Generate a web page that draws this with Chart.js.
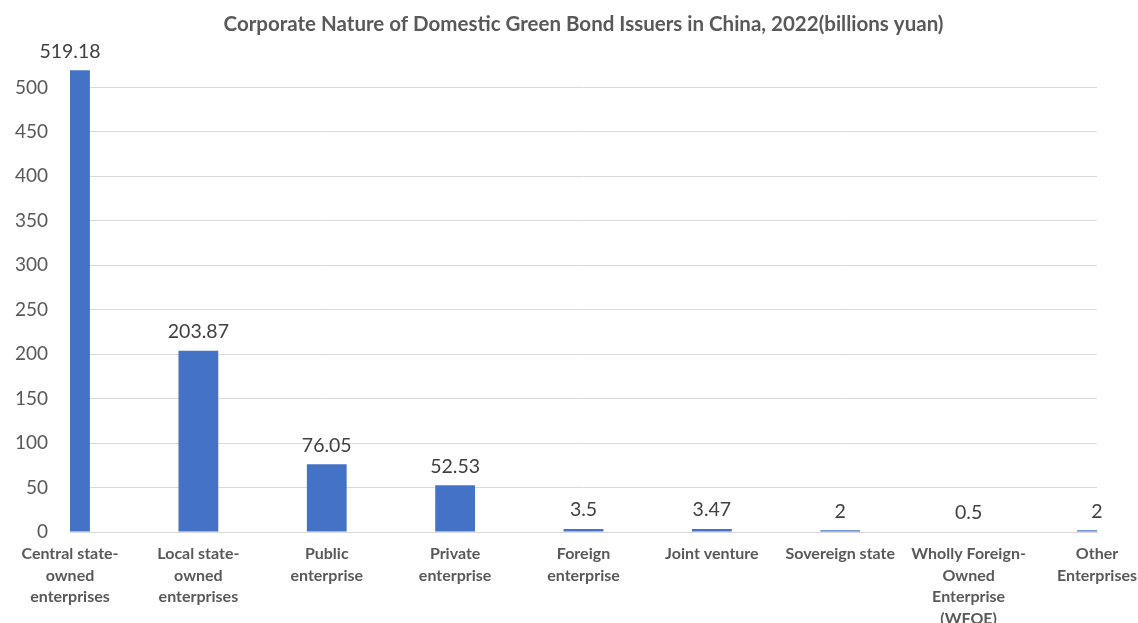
<!DOCTYPE html>
<html>
<head>
<meta charset="utf-8">
<script src="https://cdn.jsdelivr.net/npm/chart.js@4/dist/chart.umd.min.js"></script>
<style>
    html, body { margin: 0; padding: 0; background: #ffffff; }
    #wrap { width: 1138px; height: 623px; }
</style>
</head>
<body>
<div id="wrap"><canvas id="bond-chart" width="1138" height="623"></canvas></div>
<script>
// Chart data
const categories = [
    ['Central state-', 'owned', 'enterprises'],
    ['Local state-', 'owned', 'enterprises'],
    ['Public', 'enterprise'],
    ['Private', 'enterprise'],
    ['Foreign', 'enterprise'],
    'Joint venture',
    'Sovereign state',
    ['Wholly Foreign-', 'Owned', 'Enterprise', '(WFOE)'],
    ['Other', 'Enterprises']
];
const issuance = [519.18, 203.87, 76.05, 52.53, 3.5, 3.47, 2, 0.5, 2];
const yTicks = [0, 50, 100, 150, 200, 250, 300, 350, 400, 450, 500];

// Draw the value above each bar
const valueLabels = {
    id: 'valueLabels',
    afterDatasetsDraw(chart) {
        const ctx = chart.ctx;
        const meta = chart.getDatasetMeta(0);
        ctx.save();
        ctx.font = '19.5px Lato, "Open Sans", sans-serif';
        ctx.fillStyle = '#404040';
        ctx.textAlign = 'center';
        ctx.textBaseline = 'bottom';
        meta.data.forEach((bar, i) => {
            ctx.fillText(String(issuance[i]), bar.x, bar.y - 9);
        });
        ctx.restore();
    }
};

const ctx = document.getElementById('bond-chart').getContext('2d');
const bondChart = new Chart(ctx, {
    type: 'bar',
    data: {
        labels: categories,
        datasets: [{
            data: issuance,
            backgroundColor: '#4472C4',
            borderWidth: 0,
            categoryPercentage: 1,
            barPercentage: 0.31
        }]
    },
    options: {
        responsive: false,
        animation: false,
        layout: { padding: 0 },
        plugins: {
            legend: { display: false },
            tooltip: { enabled: false },
            title: {
                display: true,
                fullSize: false, // centre over the plot area, not the canvas
                text: 'Corporate Nature of Domestic Green Bond Issuers in China, 2022(billions yuan)',
                color: '#595959',
                font: { family: 'Lato, "Open Sans", sans-serif', size: 20.5, weight: 'bold', lineHeight: 1.2 },
                padding: { top: 12, bottom: 33 }
            }
        },
        scales: {
            x: {
                offset: false,
                grid: { display: false, drawTicks: false },
                border: { display: true, color: '#d9d9d9', width: 1 },
                ticks: {
                    color: '#595959',
                    maxRotation: 0,
                    autoSkip: false,
                    padding: 11,
                    font: { family: 'Lato, "Open Sans", sans-serif', size: 16, weight: 'bold', lineHeight: 1.35 }
                },
                afterFit(scale) {
                    scale.height = 91;
                    scale.paddingLeft = 0;
                    scale.paddingRight = 41;
                }
            },
            y: {
                min: 0,
                max: 520,
                grid: { color: '#d9d9d9', lineWidth: 1, drawTicks: false },
                border: { display: false },
                afterBuildTicks(scale) {
                    scale.ticks = yTicks.map(v => ({ value: v }));
                },
                ticks: {
                    color: '#595959',
                    padding: 22,
                    font: { family: 'Lato, "Open Sans", sans-serif', size: 19 }
                },
                afterFit(scale) {
                    scale.width = 70;
                }
            }
        }
    },
    plugins: [valueLabels]
});
</script>
</body>
</html>
